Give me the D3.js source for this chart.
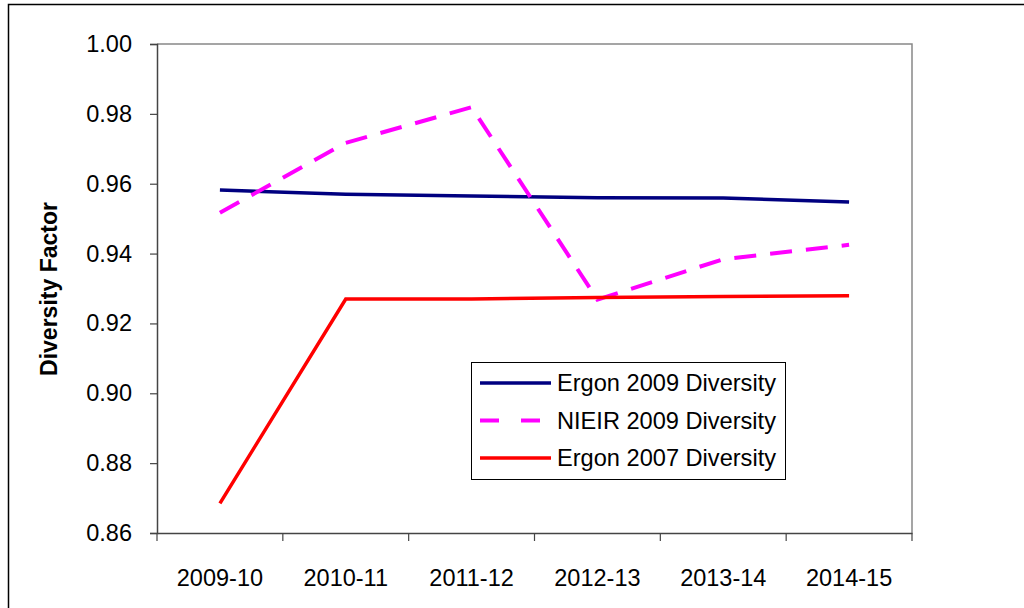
<!DOCTYPE html>
<meta charset="utf-8">
<style>
    body { margin: 0; overflow: hidden; background: #fff; }
    text { font-family: "Liberation Sans", Arial, sans-serif; fill: #000; }
</style>
<svg id="canvas" width="1024" height="608"></svg>
<script src="https://d3js.org/d3.v7.min.js"></script>
<script>

    var years = ["2009-10", "2010-11", "2011-12", "2012-13", "2013-14", "2014-15"];
    var ergon2009 = [0.9582, 0.9570, 0.9565, 0.9560, 0.9559, 0.9548];
    var nieir2009 = [0.9517, 0.9717, 0.9819, 0.9268, 0.9384, 0.9425];
    var ergon2007 = [0.8685, 0.9270, 0.9270, 0.9274, 0.9277, 0.9279];
    var yTicks = [0.86, 0.88, 0.90, 0.92, 0.94, 0.96, 0.98, 1.00];

    var series = [
        { name: "Ergon 2009 Diversity", values: ergon2009, color: "#000080", dash: null, width: 3.5 },
        { name: "NIEIR 2009 Diversity", values: nieir2009, color: "#ff00ff", dash: "22,14", width: 4 },
        { name: "Ergon 2007 Diversity", values: ergon2007, color: "#ff0000", dash: null, width: 3.5 }
    ];

    var svg = d3.select("svg");
    var pLeft = 157, pRight = 912, pTop = 44, pBottom = 533;

    // outer frame
    svg.append("rect")
       .attr("x", 8.5).attr("y", 4.5)
       .attr("width", 1100).attr("height", 700)
       .attr("fill", "none").attr("stroke", "#000").attr("stroke-width", 1.5);

    var x = d3.scaleBand().domain(years).range([pLeft, pRight]);
    var y = d3.scaleLinear().domain([0.86, 1.00]).range([pBottom, pTop]);

    // plot border (top/right)
    svg.append("path")
       .attr("d", "M" + pLeft + "," + pTop + "H" + pRight + "V" + pBottom)
       .attr("fill", "none").attr("stroke", "#888").attr("stroke-width", 1.5);

    var yAxis = svg.append("g")
       .attr("transform", "translate(" + pLeft + ",0)")
       .call(d3.axisLeft(y).tickValues(yTicks).tickFormat(d3.format(".2f")).tickSize(7).tickPadding(18));
    yAxis.select(".domain").attr("stroke", "#444").attr("stroke-width", 1.5);
    yAxis.selectAll(".tick line").attr("stroke", "#444").attr("stroke-width", 1.2);
    yAxis.selectAll("text").style("font-size", "23.5px").attr("font-family", null).attr("fill", "#000");

    var xAxis = svg.append("g")
       .attr("transform", "translate(0," + pBottom + ")")
       .call(d3.axisBottom(x).tickSize(0).tickPadding(36));
    xAxis.select(".domain").attr("stroke", "#444").attr("stroke-width", 1.5);
    xAxis.selectAll("text").style("font-size", "23.5px").attr("font-family", null).attr("fill", "#000");

    // category boundary ticks
    var bounds = years.map(function(d) { return x(d); }).concat([pRight]);
    svg.append("g").selectAll("line")
       .data(bounds).enter().append("line")
       .attr("x1", function(d) { return d; }).attr("x2", function(d) { return d; })
       .attr("y1", pBottom).attr("y2", pBottom + 8)
       .attr("stroke", "#444").attr("stroke-width", 1.2);

    svg.append("text")
       .attr("transform", "translate(57,289) rotate(-90)")
       .attr("text-anchor", "middle")
       .style("font-size", "23px").style("font-weight", "bold")
       .text("Diversity Factor");

    var line = d3.line()
       .x(function(d, i) { return x(years[i]) + x.bandwidth() / 2; })
       .y(function(d) { return y(d); });

    svg.append("g").selectAll("path")
       .data(series).enter().append("path")
       .attr("d", function(d) { return line(d.values); })
       .attr("fill", "none")
       .attr("stroke", function(d) { return d.color; })
       .attr("stroke-width", function(d) { return d.width; })
       .attr("stroke-dasharray", function(d) { return d.dash; });

    // legend
    var legend = svg.append("g");
    legend.append("rect")
       .attr("x", 471.5).attr("y", 362.5).attr("width", 314).attr("height", 117)
       .attr("fill", "#fff").attr("stroke", "#000").attr("stroke-width", 1);
    var item = legend.selectAll("g.item")
       .data(series).enter().append("g")
       .attr("transform", function(d, i) { return "translate(0," + (383 + i * 37.5) + ")"; });
    item.append("line")
       .attr("x1", 480).attr("x2", 551).attr("y1", 0).attr("y2", 0)
       .attr("stroke", function(d) { return d.color; })
       .attr("stroke-width", function(d) { return d.width; })
       .attr("stroke-dasharray", function(d) { return d.dash ? "19,22" : null; });
    item.append("text")
       .attr("x", 557).attr("y", 0).attr("dy", "0.35em")
       .style("font-size", "23.6px")
       .text(function(d) { return d.name; });

</script>
